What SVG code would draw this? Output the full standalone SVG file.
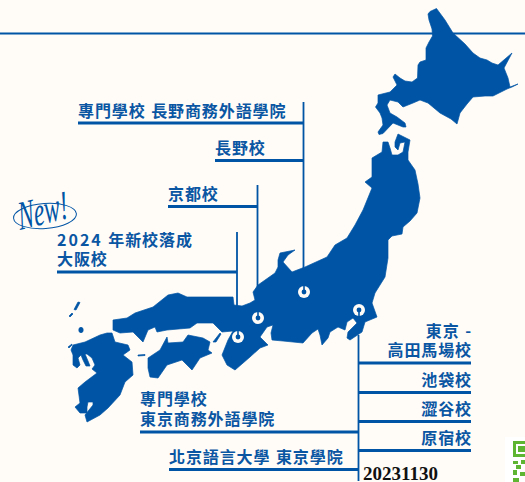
<svg xmlns="http://www.w3.org/2000/svg" width="525" height="482" viewBox="0 0 525 482">
<style>
.l{font-family:"Noto Sans CJK TC","Noto Sans",sans-serif;font-weight:700;font-size:16px;letter-spacing:.9px;word-spacing:1px;fill:#0a56a3}
.e{text-anchor:end}
.c{stroke:#0054a5;fill:none}
.h{stroke-width:3.2}
.v{stroke-width:1.8}
.m{fill:#0054a5;stroke:#0054a5;stroke-width:.7;stroke-linejoin:round}
.q{fill:#5db531}
</style>
<defs>
<g id="pin"><circle r="6" fill="#fffcf7"/><circle r="2.400" fill="#0054a5"/><path d="M0 0V-6" stroke="#0054a5" stroke-width="1.6"/></g>
</defs>
<rect width="525" height="482" fill="#fffcf7"/>
<rect x="505" y="437" width="20" height="45" fill="#fff"/>
<g id="qr">
<path class="q" fill-rule="evenodd" d="M513 441H525V457H513ZM516 444V454H525V444Z"/>
<rect class="q" x="518" y="446" width="7" height="6"/>
<rect class="q" x="513" y="461" width="5" height="3"/><rect class="q" x="521" y="460" width="4" height="4"/>
<rect class="q" x="516" y="465" width="5" height="4"/><rect class="q" x="513" y="470" width="4" height="5"/>
<rect class="q" x="520" y="472" width="5" height="4"/><rect class="q" x="513" y="478" width="6" height="4"/>
</g>
<path class="c" stroke-width="2" d="M0 33.500H525"/>
<g id="map">
<path class="m" d="M436.500 8.500L430 11.500L428 14L429 20L432 29L432.500 36L429 42L426 48L426 60L420 62L418 65L417.500 78L412 82L405 81L400 78L395 74L393 77L397 85L390 92L378 95L378 103L375.500 107L380 113L382 118L383 125L378 132L379 134.500L383 133.500L393 123L403 127L406 127L405 123L397 117L390 113L387 105L390 100L398 102L403 107L413 103L420 100L428 103L440 113L451 119L457 124L460 113L467 104L473 97L485 96L493 96L499 93L507 89L512 87L518 84L510 87L508 78L504 68L512 53L505 59L498 65L492 63L487 60L480 58L473 53L465 44L453 33L445 20Z"/>
<path class="m" d="M372 158L382 152L383 142L388 142L390 148L392 155L398 155L403 152L405 142L400 143L398 150L395 147L395 142L398 134L410 140L408 152L408 160L415 170L418 184L420 198L417 213L410 221L403 227L402 234L392 236L388 240L388 258L385 277L375 293L372 303L377 317L365 322L362 332L350 340L347 338L348 332L357 323L353 318L347 322L345 330L338 327L330 332L328 338L322 345L320 335L318 329L312 333L303 343L283 341L272 340L271 333L273 325L267 327L260 337L268 345L260 348L250 357L235 370L227 365L222 355L228 340L233 331L222 332L213 323L197 323L190 328L167 330L157 332L155 327L148 330L143 342L133 332L120 333L113 330L113 320L127 318L135 313L153 307L168 295L178 293L187 297L233 297L234 305L242 306L250 303L255 300L253 292L258 285L275 273L278 267L278 260L280 253L295 250L288 255L283 262L292 272L305 267L327 257L335 245L347 238L355 225L363 210L372 188L365 182L372 177Z"/>
<path class="m" d="M148 358L160 350L167 337L168 343L183 342L188 335L203 338L210 342L208 350L212 353L200 358L192 370L182 360L167 365L158 378L150 377L148 368Z"/>
<path class="m" d="M220 333L221 334L216 342L213 342Z"/>
<path class="m" d="M138 355L145 354.500L145 355.500L138 356Z"/>
<path class="m" d="M112 333L115 342L128 345L130 350L123 355L132 362L133 375L125 382L120 395L108 408L100 415L87 422L85 415L93 405L93 402L88 402L87 407L87 413L80 413L75 407L80 403L78 388L85 382L97 373L92 369L95 365L92 358L87 354L85 354L88 361L90 366L86 366L83 360L81 355L78 358L80 365L77 368L73 365L73 355L71 350L73 345L85 342L100 335L107 333Z"/>
<path class="m" d="M78 302L80 302.500L76 310L74 309.500ZM72 313L73 314L70 317L69 316Z"/>
<ellipse class="m" cx="81" cy="330" rx="2.200" ry="2.700"/>
<path class="m" d="M68 347L72 344L72 345L69 348Z"/>
</g>
<g id="connectors" class="c">
<path class="v" d="M303.500 102V270M257.500 185V312M237 232V306M358.500 335V481"/>
<path class="h" d="M78 123H304M215 160.500H304M168 206.500H258M57 272H237M358 363H471M358 392.500H471M358 421.500H471M358 450.500H471M140 432H358M169 469.500H358"/>
</g>
<g id="pins">
<use href="#pin" x="304" y="292"/>
<use href="#pin" x="258" y="318"/>
<use href="#pin" x="238" y="337"/>
<use href="#pin" transform="translate(359 310) rotate(180)"/>
</g>
<g id="new-badge">
<ellipse cx="45" cy="216" rx="31.500" ry="12.500" transform="rotate(-4 45 216)" fill="none" stroke="#0054a5" stroke-width="1"/>
<text transform="translate(20 230) rotate(-14) skewX(-6) scale(.8 1.35)" font-family="Liberation Serif,serif" font-style="italic" font-size="30" fill="#0054a5">New!</text>
</g>
<g id="n-nagano-gakuin"><text class="l" x="78" y="116.500">專門學校 長野商務外語學院</text></g>
<g id="n-nagano"><text class="l" x="215" y="153.500">長野校</text></g>
<g id="n-kyoto"><text class="l" x="168" y="199.500">京都校</text></g>
<g id="n-osaka"><text class="l" x="57" y="246"><tspan letter-spacing="2">2024</tspan> 年新校落成</text><text class="l" x="57" y="265">大阪校</text></g>
<g id="n-takadanobaba"><text class="l e" x="472" y="337">東京 -</text><text class="l e" x="472" y="355.500">高田馬場校</text></g>
<g id="n-ikebukuro"><text class="l e" x="472" y="385.500">池袋校</text></g>
<g id="n-shibuya"><text class="l e" x="472" y="414.500">澀谷校</text></g>
<g id="n-harajuku"><text class="l e" x="472" y="443.500">原宿校</text></g>
<g id="n-tokyo-gakuin"><text class="l" x="140" y="405">專門學校</text><text class="l" x="140" y="425">東京商務外語學院</text></g>
<g id="n-beijing"><text class="l" x="169" y="462.500">北京語言大學 東京學院</text></g>
<text x="363" y="479.500" font-family="Liberation Serif,serif" font-weight="700" font-size="19" fill="#111">20231130</text>
</svg>
